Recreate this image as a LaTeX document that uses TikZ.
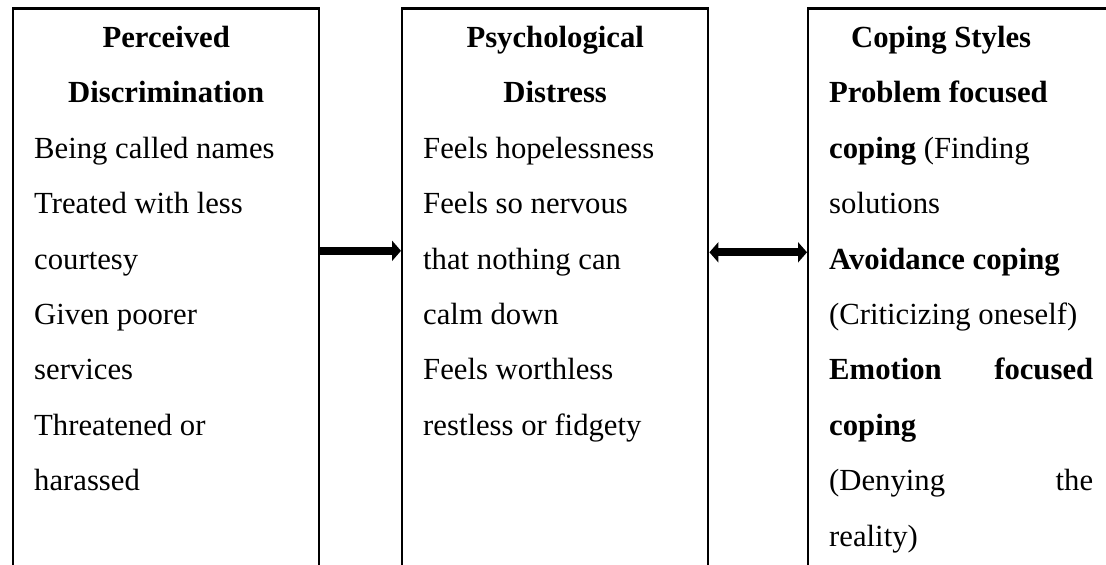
\documentclass[tikz,border=0pt]{standalone}
\usepackage{fontspec}
\setmainfont{Liberation Serif}
\usetikzlibrary{arrows.meta}

\newcommand{\paneltext}[1]{\parbox[t][300pt][t]{132pt}{\raggedright\rule{0pt}{19.5pt}#1}}

\begin{document}
\begin{tikzpicture}[x=0.5pt,y=-0.5pt,>={Triangle[length=4.5pt,width=10pt]},
        panel/.style={draw,line width=1.2pt,anchor=base west,inner xsep=10.5pt,inner ysep=0pt,
            font=\fontsize{15.35}{27.7}\selectfont},
        link/.style={line width=4pt}]
    \useasboundingbox (0,0) rectangle (1106,564);
    \clip (0,0) rectangle (1106,564);

    % the three boxes, cut off at the bottom
    \node[panel] (disc) at (12,47.5) {\paneltext{%
        \makebox[\linewidth]{\textbf{Perceived}}\\
        \makebox[\linewidth]{\textbf{Discrimination}}\\
        Being called names\\
        Treated with less\\
        courtesy\\
        Given poorer\\
        services\\
        Threatened or\\
        harassed}};
    \node[panel] (distress) at (401,47.5) {\paneltext{%
        \makebox[\linewidth]{\textbf{Psychological}}\\
        \makebox[\linewidth]{\textbf{Distress}}\\
        Feels hopelessness\\
        Feels so nervous\\
        that nothing can\\
        calm down\\
        Feels worthless\\
        restless or fidgety}};
    \node[panel] (coping) at (807,47.5) {\paneltext{%
        \makebox[\linewidth]{\textbf{Coping Styles}\hspace{20pt}}\\
        \textbf{Problem focused}\\
        \textbf{coping} (Finding\\
        solutions\\
        \textbf{Avoidance coping}\\
        (Criticizing oneself)\\
        \textbf{Emotion}\hfill\textbf{focused}\\
        \textbf{coping}\\
        (Denying\hfill the\\
        reality)}};

    \draw[link,->] ([yshift=-121.75pt]disc.north east) -- ([yshift=-121.75pt]distress.north west);
    \draw[link,<->] ([yshift=-122.5pt]distress.north east) -- ([yshift=-122.5pt]coping.north west);
\end{tikzpicture}
\end{document}
